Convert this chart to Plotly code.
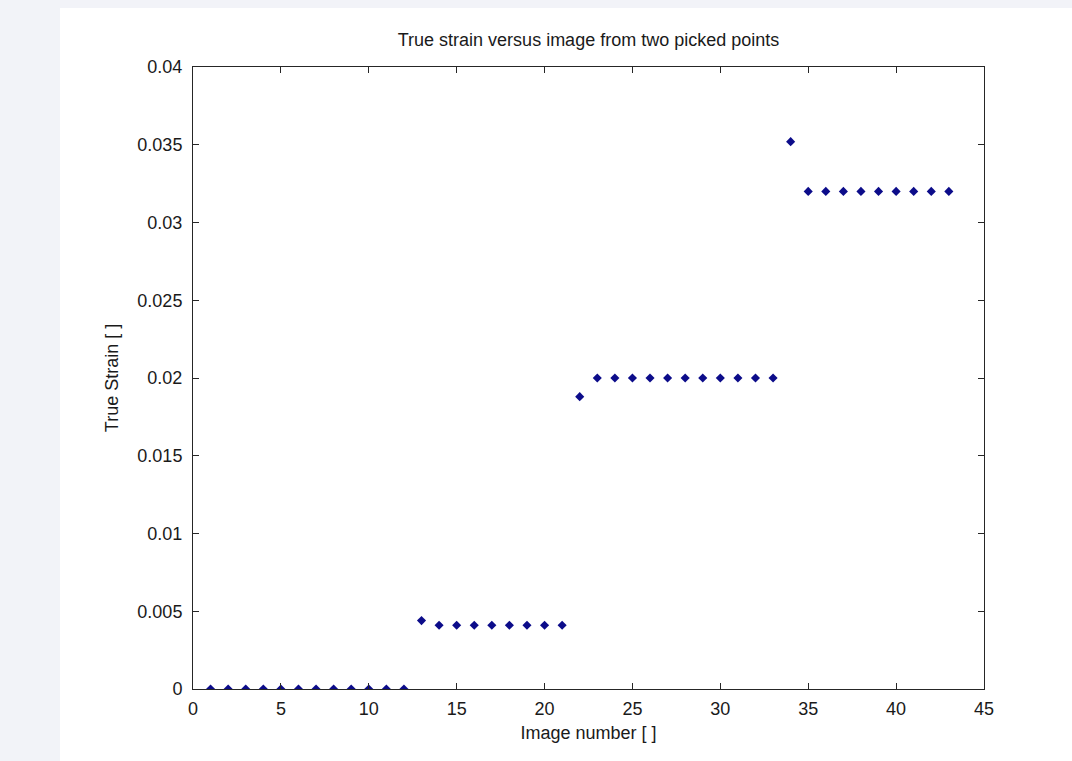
import plotly.graph_objects as go

image_number = list(range(1, 44))
strain = (
    [0.0] * 12
    + [0.0044] + [0.0041] * 8
    + [0.0188] + [0.0200] * 11
    + [0.0352] + [0.0320] * 9
)

x_ticks = [0, 5, 10, 15, 20, 25, 30, 35, 40, 45]
y_ticks = [0, 0.005, 0.01, 0.015, 0.02, 0.025, 0.03, 0.035, 0.04]
y_ticktext = ["0", "0.005", "0.01", "0.015", "0.02", "0.025", "0.03", "0.035", "0.04"]

W, H = 1072, 761
L, R, T, B = 193, 88, 67, 72
pw, ph = W - L - R, H - T - B

font = dict(family="Liberation Sans, Arial, sans-serif", size=18, color="#1a1a1a")

fig = go.Figure()
fig.add_trace(go.Scatter(
    x=image_number, y=strain, mode="markers",
    marker=dict(symbol="diamond", size=7, color="#0c0c8a"),
    showlegend=False,
))

axis_common = dict(
    showgrid=False, zeroline=False, showline=True, linecolor="#262626", linewidth=1,
    mirror="allticks", ticks="inside", ticklen=6, tickcolor="#262626", tickwidth=1,
    tickfont=font,
)

fig.update_layout(
    width=W, height=H,
    margin=dict(l=L, r=R, t=T, b=B, autoexpand=False),
    paper_bgcolor="#f2f3f8", plot_bgcolor="white",
    font=font,
    title=dict(text="True strain versus image from two picked points", x=0.5, xref="paper",
               y=1 - 40 / H, yanchor="middle", font=font),
    xaxis=dict(axis_common, range=[0, 45], tickvals=x_ticks,
               title=dict(text="Image number [ ]", font=font, standoff=8),
               ticklabelstandoff=3),
    yaxis=dict(axis_common, range=[0, 0.04], tickvals=y_ticks, ticktext=y_ticktext,
               title=dict(text="True Strain [ ]", font=font, standoff=14),
               ticklabelstandoff=6),
    shapes=[dict(type="rect", xref="paper", yref="paper", layer="below",
                 x0=(60 - L) / pw, x1=(W - L) / pw + 0.01,
                 y0=-(B + 5) / ph, y1=(H - B - 8) / ph,
                 fillcolor="white", line=dict(width=0))],
)

fig.write_html("out.html")
